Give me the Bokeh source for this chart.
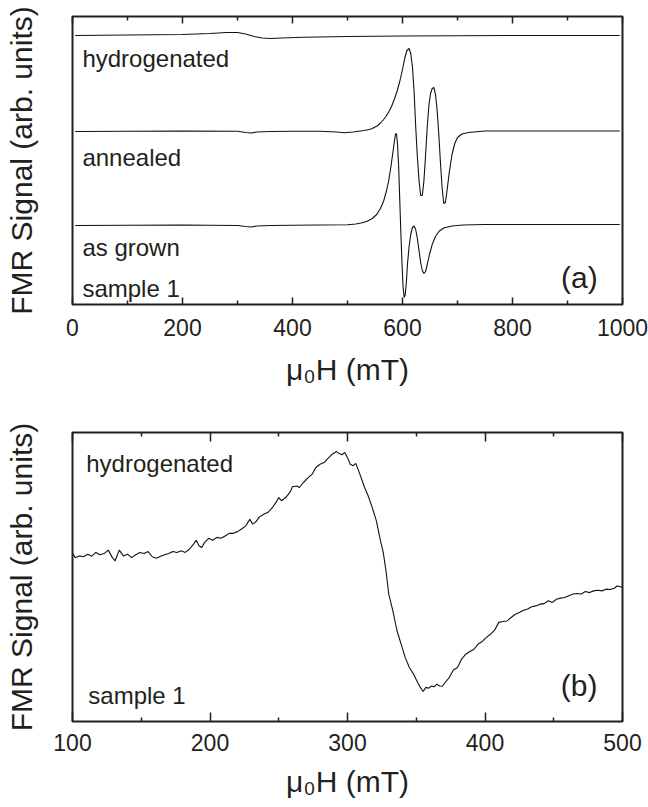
from bokeh.plotting import figure
from bokeh.layouts import column
from bokeh.models import Range1d, LinearAxis, FixedTicker, Label
from bokeh.embed import file_html
from bokeh.resources import INLINE

# ---------------- panel (a) data ----------------
hyd_a_x = [5, 100, 200, 250, 280, 300, 315, 330, 345, 360, 380, 420, 500, 600, 700, 800, 995]
hyd_a_y = [269, 269.5, 270, 271, 272, 272, 270.5, 268, 266.5, 266, 266.5, 267.3, 268, 268.5, 268.8, 269, 269]

ann_x = [5, 100, 200, 300, 315, 325, 335, 360, 400, 450, 480, 495, 510, 530, 540, 545, 550, 555,
         560, 565, 570, 575, 580, 585, 590, 595, 600, 604, 608, 612, 615, 618, 621, 624, 627, 630,
         633, 636, 639, 642, 645, 648, 651, 654, 657, 660, 663, 666, 669, 672, 675, 678, 681, 685,
         690, 695, 700, 708, 720, 750, 800, 995]
ann_y = [173, 173.2, 173.5, 173.2, 172, 171.5, 172.5, 173, 173.3, 173.2, 172.5, 171.8, 172.5, 174,
         175, 176, 177.5, 179, 181.5, 184.5, 188, 192.5, 198, 205, 213, 223, 235, 246, 254, 256, 251,
         238, 214, 178, 148, 124, 109, 109, 124, 150, 178, 199, 211, 216, 217, 210, 194, 170, 142,
         117, 101, 102, 114, 132, 150, 161, 167, 170.5, 172, 173.5, 173.5, 173.5]

grown_x = [5, 100, 200, 300, 315, 325, 335, 360, 400, 450, 500, 515, 525, 535, 545, 553, 560, 566,
           571, 575, 579, 582, 585, 587, 589, 591, 593, 595, 597, 599, 601, 603, 605, 607, 609, 612,
           615, 618, 621, 624, 627, 630, 633, 636, 639, 642, 645, 649, 654, 660, 667, 675, 690, 710,
           750, 800, 995]
grown_y = [79, 79.2, 79.5, 79, 78, 77.5, 78.5, 79, 79.3, 79.5, 79.8, 80.5, 81.5, 83, 86, 90, 96, 104,
           114, 124, 138, 150, 162, 170, 171, 160, 138, 105, 72, 42, 18, 7, 10, 22, 40, 58, 70, 77,
           78.5, 75, 66, 54, 42, 34, 31, 33, 40, 50, 60, 68, 73.5, 76.5, 78.5, 79.5, 80, 80, 80]

a_ticks = [0, 200, 400, 600, 800, 1000]
a_minor = [100, 300, 500, 700, 900]

# ---------------- panel (b) data ----------------
b_x = [100, 102, 105, 108, 111, 114, 117, 120, 123, 126, 129, 131, 134, 137, 140, 143, 146, 149,
       152, 155, 158, 161, 164, 167, 170, 173, 176, 179, 182, 185, 188, 190, 192, 194, 196, 199,
       202, 205, 208, 211, 214, 217, 220, 223, 226, 229, 231, 233, 236, 239, 242, 245, 248, 250,
       252, 255, 258, 260, 263, 265, 268, 271, 274, 277, 280, 283, 286, 289, 292, 294, 296, 298,
       300, 302, 304, 306, 309, 312, 315, 318, 321, 324, 326, 328, 330, 333, 336, 339, 342, 345,
       348, 351, 353, 355, 357, 359, 361, 363, 365, 367, 369, 371, 374, 377, 380, 383, 386, 389,
       392, 395, 398, 401, 404, 407, 410, 413, 416, 419, 422, 425, 428, 431, 434, 437, 440, 443,
       446, 449, 452, 455, 458, 461, 464, 467, 470, 473, 476, 479, 482, 485, 488, 491, 494, 496,
       498, 500]
b_y = [58.1, 56.7, 57.3, 57.0, 57.9, 57.2, 58.5, 57.7, 58.1, 59.3, 56.7, 55.6, 59.3, 57.3, 57.9,
       56.7, 57.7, 58.5, 58.1, 58.8, 57.0, 56.5, 57.2, 57.7, 58.1, 58.8, 58.5, 59.1, 58.5, 59.6,
       61.4, 62.7, 60.8, 60.2, 61.9, 63.4, 62.7, 63.7, 63.4, 64.2, 65.1, 65.1, 65.7, 66.6, 67.7,
       70.0, 68.3, 68.9, 70.8, 71.7, 72.3, 73.8, 75.8, 77.5, 76.4, 77.5, 79.2, 81.2, 81.5, 81.0,
       82.7, 84.2, 85.4, 87.9, 89.0, 89.6, 91.1, 92.5, 93.4, 92.7, 92.3, 93.1, 91.3, 89.0, 88.5,
       89.3, 85.6, 81.5, 78.1, 74.0, 69.4, 62.5, 58.5, 52.1, 44.1, 38.3, 31.4, 26.8, 22.1, 18.7,
       16.4, 13.5, 11.8, 10.4, 11.8, 11.5, 12.3, 12.0, 12.9, 12.3, 12.2, 13.5, 15.2, 17.8, 18.7,
       21.6, 23.3, 24.2, 25.0, 26.8, 27.7, 29.1, 30.2, 31.6, 34.3, 34.6, 34.8, 36.0, 37.1, 37.7,
       38.5, 38.9, 39.7, 40.0, 40.6, 40.8, 41.8, 41.2, 42.3, 42.7, 42.9, 43.5, 44.1, 44.3, 44.1,
       45.0, 44.6, 45.2, 45.4, 45.2, 45.8, 45.7, 46.1, 46.9, 46.7, 46.4]

b_ticks = [100, 200, 300, 400, 500]
b_minor = [150, 250, 350, 450]

x_label = "μ₀H (mT)"
y_label = "FMR Signal (arb. units)"

FONT = "Liberation Sans"
INK = "#231f20"
LINE = "#111111"


def make_fig(height, xr, yr, border_top, border_bottom, ticks, minor, major_in,
             tick_standoff, label_standoff):
    p = figure(width=648, height=height, x_range=Range1d(*xr), y_range=Range1d(*yr),
               output_backend="svg", toolbar_location=None,
               min_border_left=72, min_border_right=26,
               min_border_top=border_top, min_border_bottom=border_bottom)
    p.xgrid.visible = False
    p.ygrid.visible = False
    p.outline_line_color = INK
    p.outline_line_width = 2
    p.background_fill_color = "white"
    p.border_fill_color = "white"

    xa = p.xaxis[0]
    xa.ticker = FixedTicker(ticks=ticks, minor_ticks=minor)
    xa.axis_line_color = None
    xa.major_tick_line_color = INK
    xa.minor_tick_line_color = INK
    xa.major_tick_line_width = 1.5
    xa.minor_tick_line_width = 1.5
    xa.major_tick_in = major_in
    xa.major_tick_out = 0
    xa.minor_tick_in = 4
    xa.minor_tick_out = 0
    xa.major_label_text_font = FONT
    xa.major_label_text_font_size = "23px"
    xa.major_label_text_color = INK
    xa.major_label_standoff = tick_standoff
    xa.axis_label = x_label
    xa.axis_label_text_font = FONT
    xa.axis_label_text_font_size = "30px"
    xa.axis_label_text_font_style = "normal"
    xa.axis_label_text_color = INK
    xa.axis_label_standoff = label_standoff

    ya = p.yaxis[0]
    ya.ticker = FixedTicker(ticks=[])
    ya.axis_line_color = None
    ya.major_tick_line_color = None
    ya.minor_tick_line_color = None
    ya.major_label_standoff = 0
    ya.axis_label = y_label
    ya.axis_label_text_font = FONT
    ya.axis_label_text_font_size = "30px"
    ya.axis_label_text_font_style = "normal"
    ya.axis_label_text_color = INK
    ya.axis_label_standoff = 35

    top = LinearAxis(ticker=FixedTicker(ticks=ticks, minor_ticks=minor))
    top.axis_line_color = None
    top.major_tick_line_color = INK
    top.minor_tick_line_color = INK
    top.major_tick_line_width = 1.5
    top.minor_tick_line_width = 1.5
    top.major_tick_in = major_in
    top.major_tick_out = 0
    top.minor_tick_in = 4
    top.minor_tick_out = 0
    top.major_label_text_font_size = "0px"
    top.major_label_standoff = 0
    top.major_label_overrides = {t: "" for t in ticks}
    p.add_layout(top, "above")
    return p


def note(p, x, y, text, size="24px", align="left"):
    p.add_layout(Label(x=x, y=y, text=text, text_font=FONT, text_font_size=size,
                       text_color=INK, text_align=align, text_baseline="alphabetic"))


# ---------------- panel (a) ----------------
pa = make_fig(400, (0, 1000), (0, 288), 16, 96, a_ticks, a_minor, 7, 14, 14)
pa.line(hyd_a_x, hyd_a_y, line_color=LINE, line_width=1.1)
pa.line(ann_x, ann_y, line_color=LINE, line_width=1.1)
pa.line(grown_x, grown_y, line_color=LINE, line_width=1.1)
note(pa, 18, 246, "hydrogenated")
note(pa, 18, 147, "annealed")
note(pa, 18, 57, "as grown")
note(pa, 18, 16, "sample 1")
note(pa, 955, 27, "(a)", size="30px", align="right")

# ---------------- panel (b) ----------------
pb = make_fig(407, (100, 500), (0, 100), 32, 86, b_ticks, b_minor, 9, 12, 11)
pb.line(b_x, b_y, line_color=LINE, line_width=1.1)
note(pb, 110, 89.3, "hydrogenated")
note(pb, 111.5, 9.0, "sample 1")
note(pb, 481.8, 12.5, "(b)", size="30px", align="right")

layout = column(pa, pb, spacing=0)
open("out.html", "w").write(file_html(layout, INLINE))
